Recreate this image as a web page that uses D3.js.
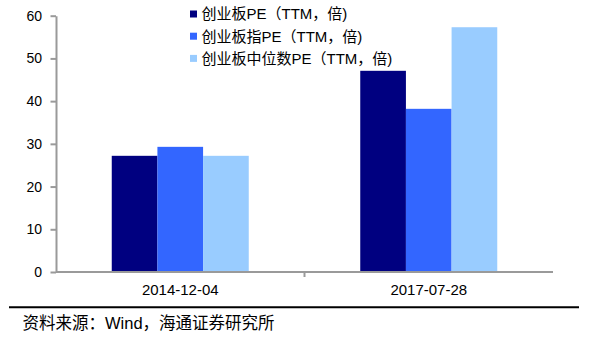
<!DOCTYPE html>
<html><head><meta charset="utf-8">
<script src="https://cdn.jsdelivr.net/npm/d3@7"></script>
<style>body{margin:0;background:#fff}svg{display:block}</style>
</head><body><svg id="c" width="598" height="342"></svg>
<script>
const categories = ["2014-12-04", "2017-07-28"];
const seriesNames = ["创业板PE（TTM，倍)", "创业板指PE（TTM，倍)", "创业板中位数PE（TTM，倍)"];
const peGEM = [27.2, 47.1];
const peGEMIndex = [29.3, 38.2];
const peGEMMedian = [27.2, 57.3];
const yTicks = [0, 10, 20, 30, 40, 50, 60];
const colors = ["#000080", "#3366FF", "#99CCFF"];
const source = "资料来源：Wind，海通证券研究所";

const series = [peGEM, peGEMIndex, peGEMMedian];
const svg = d3.select("#c");
const axisColor = "#9a9a9a";
const latin = "'Liberation Sans', Arial, sans-serif";
const cjk = "'Liberation Sans', 'Noto Sans CJK SC', sans-serif";

const y = d3.scaleLinear().domain([0, 60]).range([272, 15.7]);
const x0 = d3.scaleBand().domain(categories).range([56, 553]).paddingInner(0).paddingOuter(0);
const groupW = 137;
const x1 = d3.scaleBand().domain(d3.range(series.length)).range([0, groupW]).padding(0);

// bars
categories.forEach((c, ci) => {
  const gx = x0(c) + (x0.bandwidth() - groupW) / 2;
  series.forEach((s, si) => {
    svg.append("rect")
      .attr("x", gx + x1(si)).attr("y", y(s[ci]))
      .attr("width", x1.bandwidth()).attr("height", y(0) - y(s[ci]))
      .attr("fill", colors[si]);
  });
});

// y axis
const yAxis = d3.axisLeft(y).tickValues(yTicks).tickSize(5.5).tickPadding(8.5).tickSizeOuter(0);
const gy = svg.append("g").attr("transform", "translate(56,0)").call(yAxis);
gy.select(".domain").attr("stroke", axisColor).attr("stroke-width", 2);
gy.selectAll(".tick line").attr("stroke", axisColor).attr("stroke-width", 2);
gy.selectAll(".tick text").attr("font-family", latin).attr("font-size", 14).attr("fill", "#000");

// x axis
svg.append("line").attr("x1", 56).attr("x2", 553).attr("y1", y(0)).attr("y2", y(0))
  .attr("stroke", axisColor).attr("stroke-width", 2);
svg.append("line").attr("x1", x0(categories[1])).attr("x2", x0(categories[1]))
  .attr("y1", y(0)).attr("y2", y(0) + 5).attr("stroke", axisColor).attr("stroke-width", 2);
categories.forEach(c => {
  svg.append("text").attr("x", x0(c) + x0.bandwidth() / 2).attr("y", 294.5)
    .attr("text-anchor", "middle").attr("font-family", latin).attr("font-size", 15)
    .attr("fill", "#000").text(c);
});

// legend
seriesNames.forEach((n, i) => {
  const ly = 14 + i * 22.2;
  svg.append("rect").attr("x", 190).attr("y", ly - 3.5).attr("width", 7).attr("height", 7).attr("fill", colors[i]);
  svg.append("text").attr("x", 201.5).attr("y", ly + 5.3).attr("font-family", cjk).attr("font-size", 15)
    .attr("fill", "#000").text(n);
});

// bottom rule and source
svg.append("line").attr("x1", 9).attr("x2", 579).attr("y1", 307.3).attr("y2", 307.3)
  .attr("stroke", "#000").attr("stroke-width", 2);
svg.append("text").attr("x", 22.5).attr("y", 328.5).attr("font-family", cjk).attr("font-size", 16.5)
  .attr("fill", "#000").text(source);
</script></body></html>
